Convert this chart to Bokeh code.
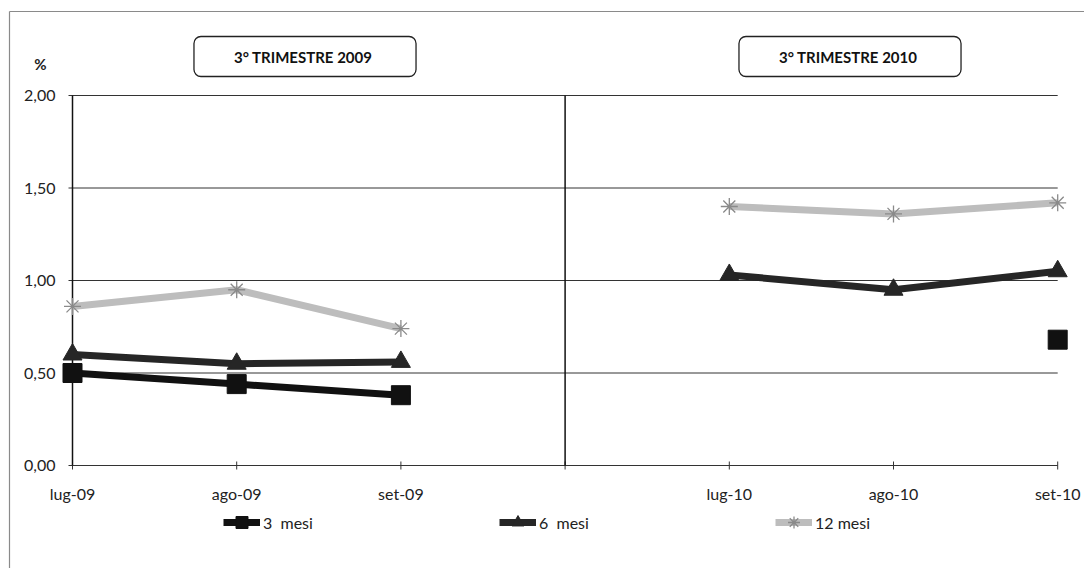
import math
from bokeh.plotting import figure
from bokeh.models import Range1d, Label, Legend, LegendItem, ColumnDataSource
from bokeh.core.properties import value
from bokeh.embed import file_html
from bokeh.resources import INLINE

nan = float("nan")

# ---- data ----
categories = ["lug-09", "ago-09", "set-09", "", "lug-10", "ago-10", "set-10"]
mesi_3 = [0.50, 0.44, 0.38, nan, nan, nan, 0.68]
mesi_6 = [0.60, 0.55, 0.56, nan, 1.03, 0.95, 1.05]
mesi_12 = [0.86, 0.95, 0.74, nan, 1.40, 1.36, 1.42]
y_ticks = [0.0, 0.5, 1.0, 1.5, 2.0]
series_names = ["3  mesi", "6  mesi", "12 mesi"]
period_titles = ["3° TRIMESTRE  2009", "3° TRIMESTRE  2010"]
unit_label = "%"

# ---- layout constants (pixel mapping) ----
W, H = 1084, 568
X0_PX, X_STEP = 72.0, 164.2      # pixel of first category, px per category
Y0_PX, Y_STEP = 465.0, 185.0     # pixel of value 0, px per unit

def dx(px):  # pixel offset -> data units (x)
    return px / X_STEP

def dy(px):  # pixel offset -> data units (y)
    return px / Y_STEP

FONT = "Lato"
xs = list(range(len(categories)))
sep_x = categories.index("")

p = figure(width=W, height=H,
           x_range=Range1d(-X0_PX / X_STEP, (W - X0_PX) / X_STEP),
           y_range=Range1d((Y0_PX - H) / Y_STEP, Y0_PX / Y_STEP),
           output_backend="svg", toolbar_location=None,
           min_border=0, min_border_left=0, min_border_right=0,
           min_border_top=0, min_border_bottom=0)
p.xaxis.visible = False
p.yaxis.visible = False
p.xgrid.visible = False
p.ygrid.visible = False
p.outline_line_color = None
p.background_fill_color = "white"
p.border_fill_color = "white"

ymax = y_ticks[-1]
ymin = y_ticks[0]

# outer chart border (left and top)
bx = -dx(X0_PX - 9)
by = dy(Y0_PX - 11)
p.segment(x0=[bx, bx], y0=[by, by], x1=[bx, (W - X0_PX) / X_STEP], y1=[(Y0_PX - H) / Y_STEP, by],
          line_color="#8a8a8a", line_width=1.2)

# gridlines (with small tick stub left of the axis)
grid_y = [t for t in y_ticks if t > ymin]
p.segment(x0=[-dx(4)] * len(grid_y), x1=[xs[-1]] * len(grid_y), y0=grid_y, y1=grid_y,
          line_color="#333333", line_width=1)
# x axis line
p.segment(x0=[-dx(4)], x1=[xs[-1]], y0=[ymin], y1=[ymin],
          line_color="#333333", line_width=1.2)
# x ticks (crossing)
p.segment(x0=xs, x1=xs, y0=[ymin - dy(4)] * len(xs), y1=[ymin + dy(4)] * len(xs),
          line_color="#333333", line_width=1)
# y axis line + separator
p.segment(x0=[xs[0], sep_x], x1=[xs[0], sep_x], y0=[ymin] * 2, y1=[ymax] * 2,
          line_color="#111111", line_width=1.5)

# tick labels
y_labels = [f"{t:.2f}".replace(".", ",") for t in y_ticks]
p.text(x=[-dx(17)] * len(y_ticks), y=y_ticks, text=y_labels,
       text_align="right", text_baseline="middle",
       text_font=value(FONT), text_font_size="16px", text_color="#222222")
p.text(x=xs, y=[ymin - dy(28)] * len(xs), text=categories,
       text_align="center", text_baseline="middle",
       text_font=value(FONT), text_font_size="16px", text_color="#222222")

# series
src = ColumnDataSource(dict(x=xs, m3=mesi_3, m6=mesi_6, m12=mesi_12))

l3 = p.line("x", "m3", source=src, line_color="#111111", line_width=7)
s3 = p.scatter("x", "m3", source=src, marker="square", size=19,
               fill_color="#111111", line_color="#111111")
l6 = p.line("x", "m6", source=src, line_color="#262626", line_width=7)
s6 = p.scatter("x", "m6", source=src, marker="triangle", size=19,
               fill_color="#262626", line_color="#262626")
l12 = p.line("x", "m12", source=src, line_color="#bdbdbd", line_width=7)
s12 = p.scatter("x", "m12", source=src, marker="asterisk", size=17,
                line_color="#8a8a8a", line_width=1.3)

# period title boxes
box_pos = [((304.5 - X0_PX) / X_STEP, (Y0_PX - 56) / Y_STEP),
           ((849.5 - X0_PX) / X_STEP, (Y0_PX - 56) / Y_STEP)]
for (tx, ty), t in zip(box_pos, period_titles):
    p.add_layout(Label(x=tx, y=ty, text=t, text_align="center", text_baseline="middle",
                       text_font=FONT, text_font_style="bold", text_font_size="15px",
                       text_color="#111111",
                       border_line_color="#222222", border_line_width=1.3,
                       background_fill_color="white",
                       padding=dict(left=40, right=40, top=11, bottom=11),
                       border_radius=7))

p.add_layout(Label(x=(40 - X0_PX) / X_STEP, y=(Y0_PX - 63) / Y_STEP, text=unit_label,
                   text_align="center", text_baseline="middle", text_font=FONT,
                   text_font_style="bold", text_font_size="15px", text_color="#222222"))

legend = Legend(items=[LegendItem(label=series_names[0], renderers=[l3, s3]),
                       LegendItem(label=series_names[1], renderers=[l6, s6]),
                       LegendItem(label=series_names[2], renderers=[l12, s12])],
                orientation="horizontal", location=(223, H - 537),
                glyph_width=37, glyph_height=30, label_standoff=3, label_width=60,
                spacing=176, padding=0, margin=0, border_line_color=None,
                background_fill_alpha=0,
                label_text_font=FONT, label_text_font_size="16px",
                label_text_color="#222222")
p.add_layout(legend)

open("out.html", "w").write(file_html(p, INLINE))
